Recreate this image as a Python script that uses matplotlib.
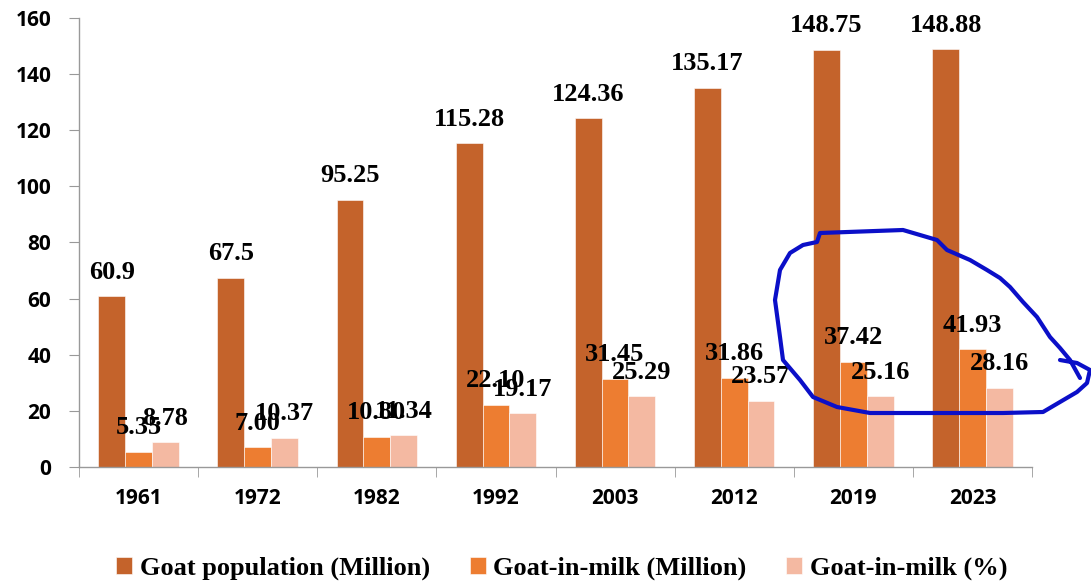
import numpy as np
import matplotlib.pyplot as plt
from matplotlib.lines import Line2D

plt.rcParams['font.family'] = 'Open Sans'
plt.rcParams['font.weight'] = 'bold'

anos = ['1961', '1972', '1982', '1992', '2003', '2012', '2019', '2023']
populacao = [60.9, 67.5, 95.25, 115.28, 124.36, 135.17, 148.75, 148.88]
em_lactacao = [5.35, 7.00, 10.80, 22.10, 31.45, 31.86, 37.42, 41.93]
pct_lactacao = [8.78, 10.37, 11.34, 19.17, 25.29, 23.57, 25.16, 28.16]

series = ['Goat population (Million)', 'Goat-in-milk (Million)', 'Goat-in-milk (%)']
cores = ['#C4632B', '#ED7D31', '#F4B9A2']

# rabisco azul feito a mao na imagem original (pixels da figura)
rabisco_x = [1080, 1070, 1060, 1050, 1037, 1023, 1010, 1000, 987, 970, 947, 937, 920, 903,
             820, 817, 803, 790, 780, 775, 780, 783, 800, 813, 837, 870, 937, 1003, 1043,
             1060, 1077, 1087, 1090, 1077, 1060]
rabisco_y = [378, 360, 348, 337, 317, 302, 287, 278, 270, 260, 250, 240, 235, 230,
             233, 242, 245, 253, 270, 300, 337, 360, 380, 397, 407, 413, 413, 413, 412,
             402, 392, 383, 370, 363, 360]

W, H = 1091, 581
fig = plt.figure(figsize=(W / 100, H / 100), dpi=100)
ax = fig.add_axes([79 / W, 1 - 467 / H, (1032 - 79) / W, (467 - 18) / H])

x = np.arange(len(anos))
larg = 0.225
fonte_rot = dict(family='Liberation Serif', weight='bold', size=19)
for i, (vals, cor, nome) in enumerate(zip([populacao, em_lactacao, pct_lactacao], cores, series)):
    pos = x + (i - 1) * larg
    ax.bar(pos, vals, width=larg, color=cor, label=nome, edgecolor='white', linewidth=0.4)
    for px, v in zip(pos, vals):
        txt = f'{v:.2f}' if i > 0 else (f'{v:g}')
        ax.annotate(txt, (px, v), xytext=(0, 9), textcoords='offset points',
                    ha='center', va='bottom', **fonte_rot)

ax.set_xlim(-0.5, len(anos) - 0.5)
ax.set_ylim(0, 160)
ax.set_yticks(range(0, 161, 20))
ax.set_xticks(x)
ax.set_xticklabels(anos)
ax.set_xticks(np.arange(len(anos) + 1) - 0.5, minor=True)
ax.tick_params(axis='x', which='major', length=0, pad=15, labelsize=15)
ax.tick_params(axis='x', which='minor', length=7, color='#999999', direction='out')
ax.tick_params(axis='y', length=7, color='#999999', pad=13, labelsize=15)

for s in ['top', 'right']:
    ax.spines[s].set_visible(False)
for s in ['left', 'bottom']:
    ax.spines[s].set_color('#999999')
    ax.spines[s].set_linewidth(1)

fig.legend(loc='lower center', bbox_to_anchor=(0.515, -0.04), ncol=3, frameon=False,
           prop=dict(family='Liberation Serif', weight='bold', size=19),
           handlelength=0.6, handleheight=0.6, handletextpad=0.3, columnspacing=1.5)

fig.add_artist(Line2D(np.array(rabisco_x) / W, 1 - np.array(rabisco_y) / H,
                      transform=fig.transFigure, color='#0B0FC8', linewidth=3,
                      solid_joinstyle='round', solid_capstyle='round'))

fig.savefig('out.png', dpi=100)
